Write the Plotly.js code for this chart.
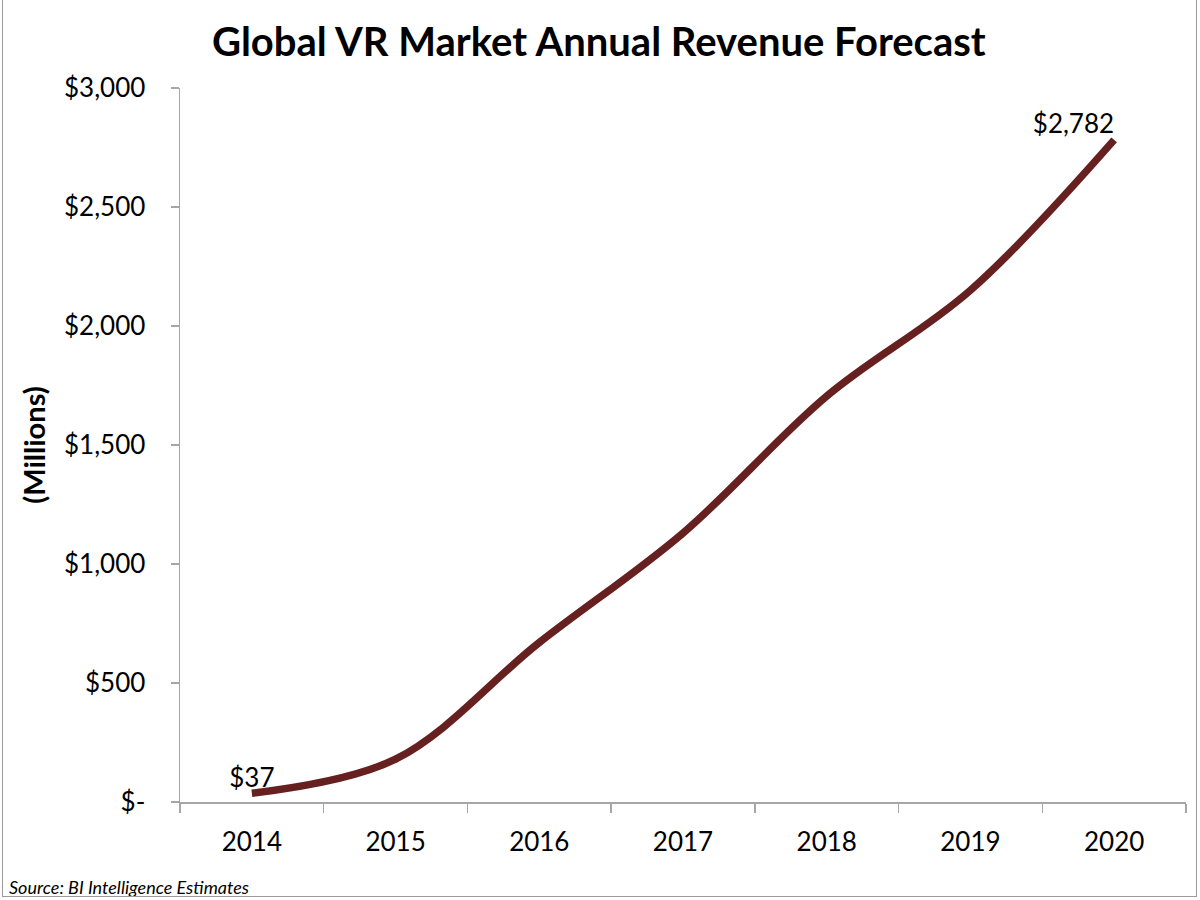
<!DOCTYPE html>
<html>
<head>
<meta charset="utf-8">
<script src="https://cdn.plot.ly/plotly-3.0.1.min.js"></script>
<style>
  html, body { margin: 0; padding: 0; background: #fff; }
  #wrap { position: relative; width: 1200px; height: 900px; }
  #chart { width: 1200px; height: 900px; }
  #frame { position: absolute; left: 2px; top: -2px; width: 1195px; height: 899px; border: 1px solid #9a9a9a; box-sizing: border-box; pointer-events: none; }
</style>
</head>
<body>
<div id="wrap">
  <div id="chart"></div>
  <div id="frame"></div>
</div>
<script>
const years = ['2014', '2015', '2016', '2017', '2018', '2019', '2020'];
const revenue = [37, 180, 670, 1130, 1705, 2150, 2782];
const pointLabels = ['$37', '', '', '', '', '', '$2,782'];
const labelPositions = ['top center', 'top center', 'top center', 'top center', 'top center', 'top center', 'top left'];
const yTickVals = [0, 500, 1000, 1500, 2000, 2500, 3000];
const yTickText = ['$-', '$500', '$1,000', '$1,500', '$2,000', '$2,500', '$3,000'];

const FONT = 'Lato, "Open Sans", sans-serif';

const trace = {
  x: years,
  y: revenue,
  type: 'scatter',
  mode: 'lines+text',
  line: { color: '#66201f', width: 7.5, shape: 'spline', smoothing: 1.0 },
  text: pointLabels,
  textposition: labelPositions,
  textfont: { family: FONT, size: 26, color: '#000' },
  hoverinfo: 'skip',
  cliponaxis: false
};

const layout = {
  width: 1200,
  height: 900,
  margin: { l: 180, r: 14, t: 88, b: 98 },
  paper_bgcolor: '#fff',
  plot_bgcolor: '#fff',
  showlegend: false,
  title: {
    text: '<b>Global VR Market Annual Revenue Forecast</b>',
    font: { family: FONT, size: 40, color: '#000' },
    x: 0.499, xanchor: 'center',
    y: 0.953, yanchor: 'middle'
  },
  xaxis: {
    type: 'category',
    range: [-0.5, 6.5],
    showgrid: false,
    zeroline: false,
    showline: true,
    linecolor: '#a6a6a6',
    linewidth: 1.5,
    ticks: 'outside',
    ticklen: 9,
    tickcolor: '#a6a6a6',
    tickwidth: 1.5,
    tickson: 'boundaries',
    ticklabelstandoff: 16,
    tickfont: { family: FONT, size: 26, color: '#000' }
  },
  yaxis: {
    range: [0, 3000],
    showgrid: false,
    zeroline: false,
    showline: true,
    linecolor: '#a6a6a6',
    linewidth: 1.5,
    ticks: 'outside',
    ticklen: 8,
    tickcolor: '#a6a6a6',
    tickwidth: 1.5,
    tickvals: yTickVals,
    ticktext: yTickText,
    ticklabelstandoff: 20,
    tickfont: { family: FONT, size: 26, color: '#000' },
    title: {
      text: '<b>(Millions)</b>',
      font: { family: FONT, size: 29, color: '#000' },
      standoff: 10
    }
  },
  annotations: [
    {
      text: '<i>Source: BI Intelligence Estimates</i>',
      xref: 'paper', yref: 'paper',
      x: -0.172, y: -0.119,
      xanchor: 'left', yanchor: 'middle',
      showarrow: false,
      font: { family: FONT, size: 18, color: '#000' }
    }
  ]
};

Plotly.newPlot('chart', [trace], layout, { displayModeBar: false, staticPlot: true });
</script>
</body>
</html>
